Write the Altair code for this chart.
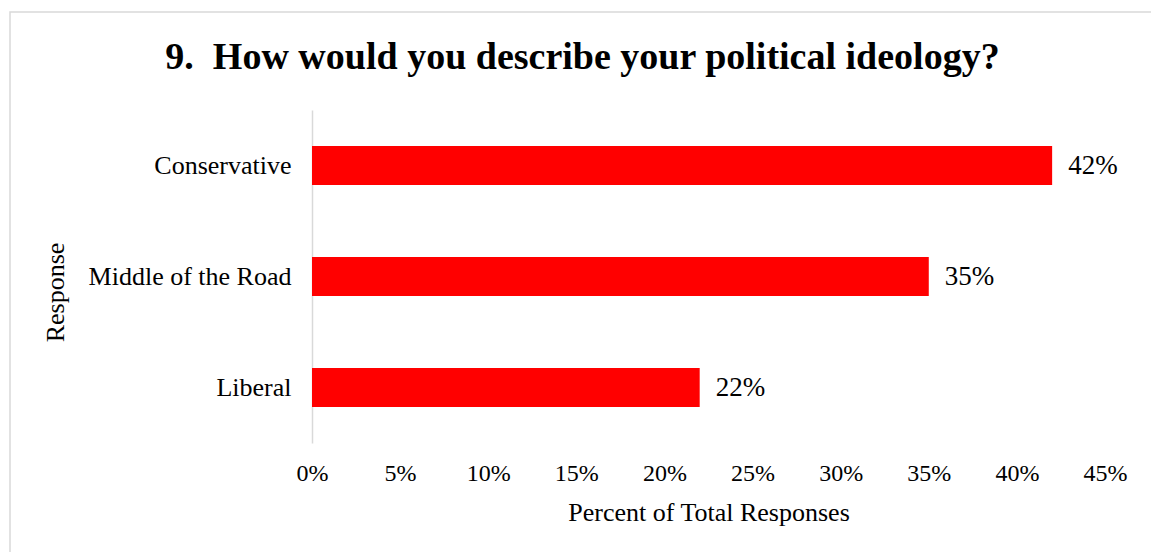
import altair as alt
import pandas as pd

responses = ["Conservative", "Middle of the Road", "Liberal"]
shares = [0.42, 0.35, 0.22]
x_ticks = [0, 0.05, 0.10, 0.15, 0.20, 0.25, 0.30, 0.35, 0.40, 0.45]

df = pd.DataFrame({"Response": responses, "Share": shares})

FONT = "Liberation Serif"
W, H = 793, 333
PL, PT = 312, 110

y_enc = alt.Y(
    "Response:N",
    sort=responses,
    scale=alt.Scale(paddingInner=0.649, paddingOuter=0.3245),
    axis=alt.Axis(
        title="Response",
        titleFont=FONT, titleFontSize=26, titleFontWeight="normal", titleColor="#000000",
        titleX=63 - PL, titleY=292 - PT, titleAngle=270, titleAlign="center",
        titleBaseline="alphabetic",
        labelFont=FONT, labelFontSize=26, labelColor="#000000", labelPadding=21,
        ticks=False, domain=True, domainColor="#d9d9d9", domainWidth=1.5,
        grid=False, labelLimit=400,
    ),
)

x_enc = alt.X(
    "Share:Q",
    scale=alt.Scale(domain=[0, 0.45], nice=False),
    axis=alt.Axis(
        title="Percent of Total Responses",
        values=x_ticks, format=".0%", labelFlush=False,
        titleFont=FONT, titleFontSize=26, titleFontWeight="normal", titleColor="#000000",
        titlePadding=14,
        labelFont=FONT, labelFontSize=24, labelColor="#000000", labelPadding=18,
        ticks=False, domain=False, grid=False,
    ),
)

frame = alt.Chart(pd.DataFrame({"f": [0]})).mark_rect(
    fill=None, stroke="#d9d9d9", strokeWidth=1.5
).encode(
    x=alt.value(10 - PL), x2=alt.value(1170 - PL),
    y=alt.value(12 - PT), y2=alt.value(570 - PT),
)

bars = alt.Chart(df).mark_bar(color="#ff0000").encode(y=y_enc, x=x_enc)

labels = alt.Chart(df).mark_text(
    align="left", baseline="middle", dx=16, font=FONT, fontSize=27, color="#000000"
).encode(
    y=alt.Y("Response:N", sort=responses),
    x=alt.X("Share:Q"),
    text=alt.Text("Share:Q", format=".0%"),
)

chart = alt.layer(frame, bars, labels).properties(
    width=W, height=H,
    title=alt.TitleParams(
        text="9.\u00a0 How would you describe your political ideology?",
        font=FONT, fontSize=38, fontWeight="bold", color="#000000",
        anchor="middle", dx=-126, offset=0, dy=96, baseline="alphabetic",
    ),
    padding={"left": PL, "top": PT, "right": 1151 - PL - W, "bottom": 552 - PT - H},
    autosize=alt.AutoSizeParams(type="none"),
    background="white",
).configure_view(stroke=None)

chart.save("out.html", embed_options={"renderer": "svg", "actions": False})
